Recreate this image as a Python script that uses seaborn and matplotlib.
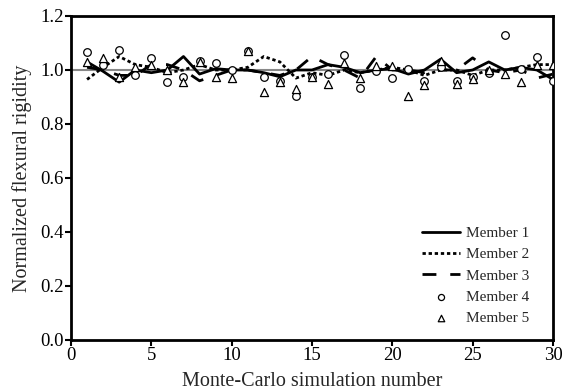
import numpy as np
import pandas as pd
import matplotlib
matplotlib.use("Agg")
import matplotlib.pyplot as plt
import seaborn as sns

runs = list(range(1, 31))
member1 = [1.03, 0.995, 0.955, 1.0, 0.99, 1.0, 1.05, 0.985, 1.005, 1.0,
           1.0, 0.99, 0.975, 1.0, 1.0, 1.02, 1.01, 0.99, 1.0, 1.005,
           0.985, 1.0, 1.04, 0.99, 1.0, 1.03, 1.0, 1.01, 1.0, 0.965]
member2 = [0.965, 1.01, 1.05, 1.02, 1.01, 0.99, 1.0, 1.02, 1.0, 1.0,
           1.01, 1.05, 1.03, 0.97, 0.99, 0.98, 1.0, 0.99, 1.0, 1.01,
           1.0, 0.98, 1.0, 1.0, 0.98, 1.0, 1.0, 1.01, 1.02, 1.02]
member3 = [1.01, 1.0, 0.98, 0.98, 1.02, 1.02, 1.0, 0.96, 0.98, 1.0,
           1.0, 0.99, 0.98, 1.0, 1.05, 1.02, 1.0, 0.97, 1.05, 1.0,
           1.0, 0.99, 1.0, 1.0, 1.045, 1.0, 0.99, 1.0, 0.97, 0.985]
member4 = [1.065, 1.02, 1.075, 0.98, 1.045, 0.955, 0.975, 1.035, 1.025, 1.0,
           1.07, 0.975, 0.96, 0.905, 0.975, 0.985, 1.055, 0.935, 0.995, 0.97,
           1.005, 0.96, 1.01, 0.96, 0.975, 0.99, 1.13, 1.005, 1.05, 0.96]
member5 = [1.03, 1.045, 0.975, 1.01, 1.02, 1.0, 0.955, 1.03, 0.975, 0.97,
           1.07, 0.92, 0.955, 0.93, 0.975, 0.95, 1.025, 0.97, 1.015, 1.015,
           0.905, 0.945, 1.035, 0.95, 0.965, 1.0, 0.985, 0.955, 1.02, 1.02]

x_ticks = [0, 5, 10, 15, 20, 25, 30]
y_ticks = [0.0, 0.2, 0.4, 0.6, 0.8, 1.0, 1.2]

sns.set_theme(style="ticks")
plt.rcParams['font.family'] = ['Liberation Serif', 'DejaVu Serif']

fig = plt.figure(figsize=(5.73, 3.92), dpi=100)
ax = fig.add_axes([71/573, 1-340/392, (553-71)/573, (340-16)/392])

ax.axhline(1.0, color='#888888', lw=1.5, zorder=1)

df_lines = pd.DataFrame({"run": runs * 3,
                         "value": member1 + member2 + member3,
                         "member": ["Member 1"] * 30 + ["Member 2"] * 30 + ["Member 3"] * 30})
styles = {"Member 1": '-',
          "Member 2": (0, (1.2, 1.0)),
          "Member 3": (0, (5, 5))}
for name, ls in styles.items():
    sns.lineplot(data=df_lines[df_lines.member == name], x="run", y="value", ax=ax,
                 color='black', linestyle=ls, linewidth=2.0, label=name, zorder=3)

df_pts = pd.DataFrame({"run": runs * 2, "value": member4 + member5,
                       "member": ["Member 4"] * 30 + ["Member 5"] * 30})
sns.scatterplot(data=df_pts[df_pts.member == "Member 4"], x="run", y="value", ax=ax,
                marker='o', s=30, facecolor='white', edgecolor='black', linewidth=0.9,
                label="Member 4", zorder=4)
sns.scatterplot(data=df_pts[df_pts.member == "Member 5"], x="run", y="value", ax=ax,
                marker='^', s=34, facecolor='white', edgecolor='black', linewidth=0.9,
                label="Member 5", zorder=4)

ax.set_xlim(0, 30)
ax.set_ylim(0, 1.2)
ax.set_xticks(x_ticks)
ax.set_yticks(y_ticks)
ax.set_yticklabels([f"{v:.1f}" for v in y_ticks])
ax.set_xlabel("Monte-Carlo simulation number", fontsize=14.5, labelpad=6)
ax.set_ylabel("Normalized flexural rigidity", fontsize=14.5, labelpad=6)
ax.tick_params(axis='both', labelsize=13.5, direction='out', length=4, width=1.5,
               color='black', labelcolor='black', pad=1)
for sp in ax.spines.values():
    sp.set_linewidth(2.0)
    sp.set_color('black')

leg = ax.legend(loc='lower right', bbox_to_anchor=(0.98, 0.0), frameon=False,
                fontsize=11, handlelength=2.5, handletextpad=0.35,
                labelspacing=0.5, markerscale=0.8, borderaxespad=0.55)
fig.savefig("out.png", dpi=100)
